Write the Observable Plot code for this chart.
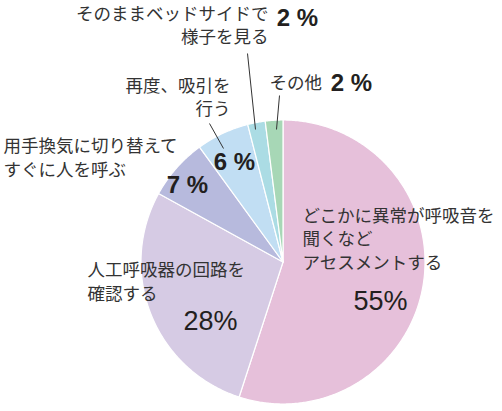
<!DOCTYPE html>
<html><head><meta charset="utf-8">
<script src="https://cdn.jsdelivr.net/npm/d3@7"></script>
<script src="https://cdn.jsdelivr.net/npm/@observablehq/plot@0.6"></script>
<style>body{margin:0;background:#fff}</style>
</head><body><div id="chart"></div>
<script>
// Data
const categories = ["どこかに異常が呼吸音を聞くなどアセスメントする","人工呼吸器の回路を確認する","用手換気に切り替えてすぐに人を呼ぶ","再度、吸引を行う","そのままベッドサイドで様子を見る","その他"];
const values = [55, 28, 7, 6, 2, 2];
const valueLabels = ["55%", "28%", "7 %", "6 %", "2 %", "2 %"];
const labelLines = ["どこかに異常が呼吸音を\n聞くなど\nアセスメントする","人工呼吸器の回路を\n確認する","用手換気に切り替えて\nすぐに人を呼ぶ","再度、吸引を\n行う","そのままベッドサイドで\n様子を見る","その他"];
const colors = ["#e6c0da","#d6cbe4","#b7badd","#c1def3","#abdce4","#a7d7b6"];

// Layout (pixel space)
const W = 502, H = 411;
const cx = 282.5, cy = 261.5, R = 142;
const nameLayout = [
  {x: 302, y: 268, anchor: "start"},
  {x: 87, y: 299, anchor: "start"},
  {x: 3, y: 175, anchor: "start"},
  {x: 230, y: 114, anchor: "end"},
  {x: 268, y: 42, anchor: "end"},
  {x: 269, y: 88, anchor: "start"}
];
const valueLayout = [
  {x: 380, y: 301, size: 27, weight: "normal"},
  {x: 210, y: 321, size: 27, weight: "normal"},
  {x: 187, y: 185, size: 24, weight: "bold"},
  {x: 234, y: 162, size: 24, weight: "bold"},
  {x: 297, y: 18, size: 24, weight: "bold"},
  {x: 351, y: 83, size: 24, weight: "bold"}
];
const leaders = [
  {x1: 209, y1: 123, x2: 223, y2: 148},
  {x1: 247, y1: 53, x2: 255, y2: 129},
  {x1: 279, y1: 95, x2: 276, y2: 129}
];

const pie = d3.pie().sort(null).value(d => d.value)(categories.map((c, i) => ({category: c, value: values[i]})));
const pts = [];
pie.forEach(s => {
  const c = s.data.category;
  pts.push({category: c, x: cx, y: cy});
  const n = Math.max(2, Math.ceil((s.endAngle - s.startAngle) / (Math.PI / 360)));
  for (let k = 0; k <= n; k++) {
    const a = s.startAngle + (s.endAngle - s.startAngle) * k / n;
    pts.push({category: c, x: cx + R * Math.sin(a), y: cy - R * Math.cos(a)});
  }
  pts.push({category: c, x: cx, y: cy});
});

const names = categories.map((c, i) => ({text: labelLines[i], ...nameLayout[i]}));
const vals = categories.map((c, i) => ({text: valueLabels[i], ...valueLayout[i]}));

const chart = Plot.plot({
  width: W, height: H, margin: 0,
  x: {domain: [0, W], range: [0, W], axis: null},
  y: {domain: [0, H], range: [0, H], axis: null},
  color: {domain: categories, range: colors},
  marks: [
    Plot.line(pts, {x: "x", y: "y", z: "category", fill: "category", stroke: "white", strokeWidth: 1.2, curve: "linear"}),
    Plot.link(leaders, {x1: "x1", y1: "y1", x2: "x2", y2: "y2", stroke: "#333", strokeWidth: 1}),
    Plot.text(names.filter(d => d.anchor === "start"), {x: "x", y: "y", text: "text", textAnchor: "start", lineAnchor: "bottom", lineHeight: 1.33, fontSize: 17.5, fill: "#333", fontFamily: "Noto Sans CJK JP"}),
    Plot.text(names.filter(d => d.anchor === "end"), {x: "x", y: "y", text: "text", textAnchor: "end", lineAnchor: "bottom", lineHeight: 1.3, fontSize: 17.5, fill: "#333", fontFamily: "Noto Sans CJK JP"}),
    Plot.text(vals.filter(d => d.weight === "normal"), {x: "x", y: "y", text: "text", fontSize: d => d.size, lineAnchor: "middle", fill: "#231f20", fontFamily: "Liberation Sans"}),
    Plot.text(vals.filter(d => d.weight === "bold"), {x: "x", y: "y", text: "text", fontSize: d => d.size, fontWeight: "bold", lineAnchor: "middle", fill: "#231f20", fontFamily: "Liberation Sans"})
  ]
});
document.getElementById("chart").appendChild(chart);
</script>
</body></html>
